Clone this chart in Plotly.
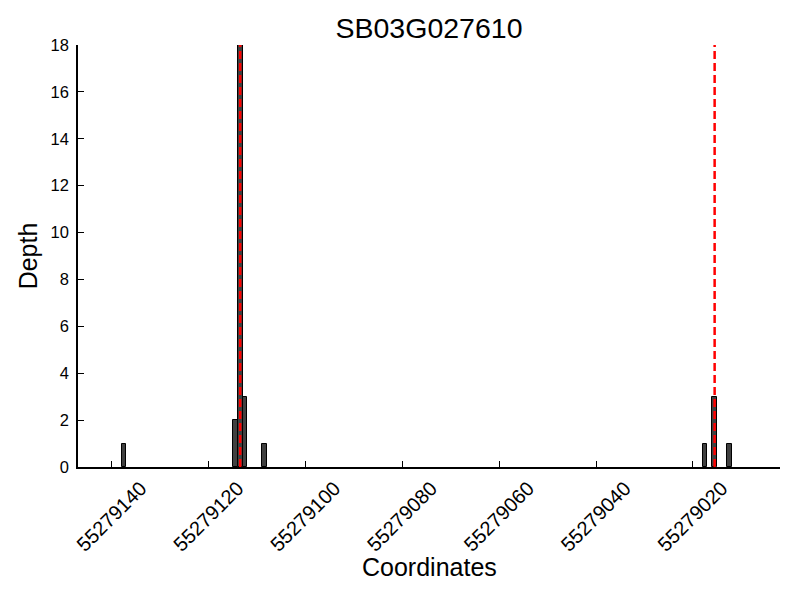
import plotly.graph_objects as go

# Data
bar_start = [55279137, 55279114, 55279113, 55279112, 55279108, 55279017, 55279015, 55279012]
depth = [1, 2, 18, 3, 1, 1, 3, 1]
marker_lines = [55279113.5, 55279015.5]
x_ticks = [55279140, 55279120, 55279100, 55279080, 55279060, 55279040, 55279020]
x_range = [55279147, 55279002]
y_ticks = [0, 2, 4, 6, 8, 10, 12, 14, 16, 18]
y_range = [0, 18]
title = "SB03G027610"
x_title = "Coordinates"
y_title = "Depth"

FONT = "Liberation Sans, Arial, sans-serif"
H_PLOT = 600 - 45 - 133

fig = go.Figure()
fig.add_trace(go.Bar(
    x=bar_start, y=depth, width=1, offset=0,
    marker=dict(color="#404040", line=dict(color="black", width=1)),
    showlegend=False,
))

for xv in marker_lines:
    fig.add_shape(type="line", xref="x", yref="y", x0=xv, x1=xv, y0=y_range[0], y1=y_range[1],
                  line=dict(color="#ff0000", width=2.5, dash="8px,4px"), layer="above")

fig.add_annotation(text=x_title, xref="paper", yref="paper", x=0.5, y=-100 / H_PLOT,
                   xanchor="center", yanchor="middle", showarrow=False,
                   font=dict(size=25, family=FONT, color="black"))

fig.update_layout(
    width=800, height=600,
    margin=dict(l=78, r=20, t=45, b=133, autoexpand=False),
    paper_bgcolor="white", plot_bgcolor="white",
    font=dict(family=FONT, color="black"),
    title=dict(text=title, xref="paper", x=0.5, xanchor="center", y=1 - 28 / 600, yanchor="middle",
               font=dict(size=28.5, family=FONT, color="black")),
    bargap=0,
)

fig.update_xaxes(
    range=x_range, tickvals=x_ticks, ticktext=[str(v) for v in x_ticks],
    tickangle=-45, tickfont=dict(size=20), ticks="inside", ticklen=6, tickcolor="black",
    showline=True, linecolor="black", linewidth=1.5, showgrid=False, zeroline=False,
    ticklabelshift=-29, ticklabelstandoff=0, automargin=False,
)
fig.update_yaxes(
    range=y_range, tickvals=y_ticks, tickfont=dict(size=16.5), ticks="inside", ticklen=6, tickcolor="black",
    showline=True, linecolor="black", linewidth=1.5, showgrid=False, zeroline=False,
    ticklabelstandoff=4, automargin=False,
    title=dict(text=y_title, font=dict(size=25), standoff=6),
)

fig.write_html("out.html", config={"displayModeBar": False},
               post_script="document.body.style.margin='0';")
